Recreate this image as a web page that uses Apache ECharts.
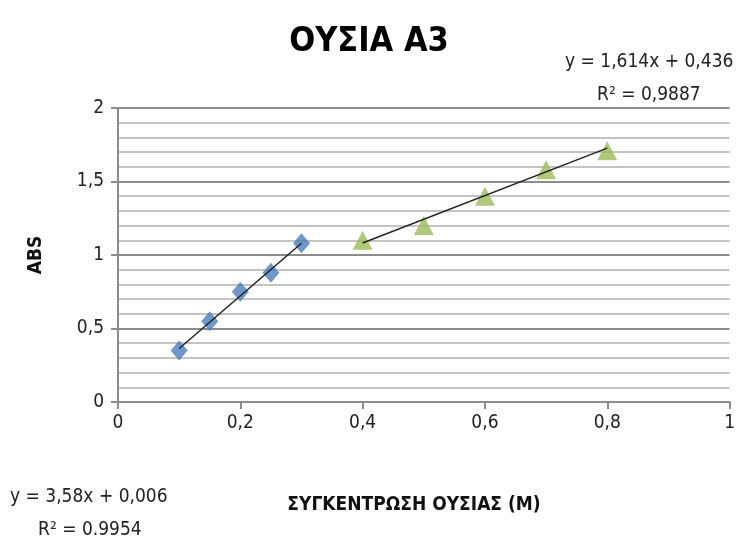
<!DOCTYPE html>
<html><head><meta charset="utf-8">
<script src="https://cdn.jsdelivr.net/npm/echarts@6/dist/echarts.min.js"></script>
<style>html,body{margin:0;padding:0;background:#fff}#c{width:738px;height:545px}</style>
</head><body><div id="c"></div>
<script>
const xBlue = [0.1, 0.15, 0.2, 0.25, 0.3];
const yBlue = [0.35, 0.55, 0.75, 0.88, 1.08];
const xGreen = [0.4, 0.5, 0.6, 0.7, 0.8];
const yGreen = [1.10, 1.20, 1.40, 1.58, 1.71];
const slopes = [3.58, 1.614];
const intercepts = [0.006, 0.436];
const eqTexts = ['y = 3,58x + 0,006', 'R² = 0.9954', 'y = 1,614x + 0,436', 'R² = 0,9887'];
const titleText = 'ΟΥΣΙΑ Α3';
const xName = 'ΣΥΓΚΕΝΤΡΩΣΗ ΟΥΣΙΑΣ (M)';
const yName = 'ABS';

const FONT = '"Liberation Sans Narrow","DejaVu Sans Condensed",sans-serif';
const fmt = v => String(v).replace('.', ',');
const trend = (xs, i) => [xs[0], xs[xs.length-1]].map(x => [x, slopes[i]*x + intercepts[i]]);

const chart = echarts.init(document.getElementById('c'), null, {renderer:'canvas'});
chart.setOption({
  animation:false,
  backgroundColor:'#fff',
  grid:{left:118, right:5, top:108, bottom:143},
  title:{text:titleText, left:'center', top:20,
    textStyle:{fontFamily:FONT, fontSize:34, fontWeight:'bold', color:'#000'}},
  graphic:[
    {type:'text', x:10, y:497, style:{text:eqTexts[0], font:'19px '+FONT, fill:'#222', textVerticalAlign:'middle'}},
    {type:'text', x:38, y:530, style:{text:eqTexts[1], font:'19px '+FONT, fill:'#222', textVerticalAlign:'middle'}},
    {type:'text', x:565, y:62, style:{text:eqTexts[2], font:'19px '+FONT, fill:'#222', textVerticalAlign:'middle'}},
    {type:'text', x:597, y:95, style:{text:eqTexts[3], font:'19px '+FONT, fill:'#222', textVerticalAlign:'middle'}},
    {type:'text', x:414, y:505, style:{text:xName, font:'bold 19px '+FONT, fill:'#111', textAlign:'center', textVerticalAlign:'middle'}},
    {type:'text', x:36, y:255, rotation:Math.PI/2, style:{text:yName, font:'bold 19px '+FONT, fill:'#111', textAlign:'center', textVerticalAlign:'middle'}}
  ],
  xAxis:{type:'value', min:0, max:1, interval:0.2,
    axisLine:{show:true, lineStyle:{color:'#8c8c8c', width:2}},
    axisTick:{show:true, length:7, lineStyle:{color:'#8c8c8c', width:2}},
    axisLabel:{formatter:fmt, fontFamily:FONT, fontSize:19, color:'#222', margin:12},
    splitLine:{show:false}},
  yAxis:{type:'value', min:0, max:2, interval:0.5,
    axisLine:{show:true, lineStyle:{color:'#8c8c8c', width:2}},
    axisTick:{show:true, length:7, lineStyle:{color:'#8c8c8c', width:2}},
    axisLabel:{formatter:fmt, fontFamily:FONT, fontSize:19, color:'#222', margin:14},
    splitLine:{show:true, lineStyle:{color:'#8c8c8c', width:2}},
    minorSplitLine:{show:true, lineStyle:{color:'#c4c4c4', width:2}},
    minorTick:{show:false, splitNumber:5}},
  series:[
    {type:'line', data:trend(xBlue,0), symbol:'none', lineStyle:{color:'#222', width:1.5}, z:3},
    {type:'line', data:trend(xGreen,1), symbol:'none', lineStyle:{color:'#222', width:1.5}, z:3},
    {type:'scatter', data:xBlue.map((x,i)=>[x,yBlue[i]]), symbol:'diamond', symbolSize:[17,20],
      itemStyle:{color:'#4A7EBB'}, z:2},
    {type:'scatter', data:xGreen.map((x,i)=>[x,yGreen[i]]), symbol:'triangle', symbolSize:[20,19],
      itemStyle:{color:'#9BBB59'}, z:2}
  ]
});
</script></body></html>
